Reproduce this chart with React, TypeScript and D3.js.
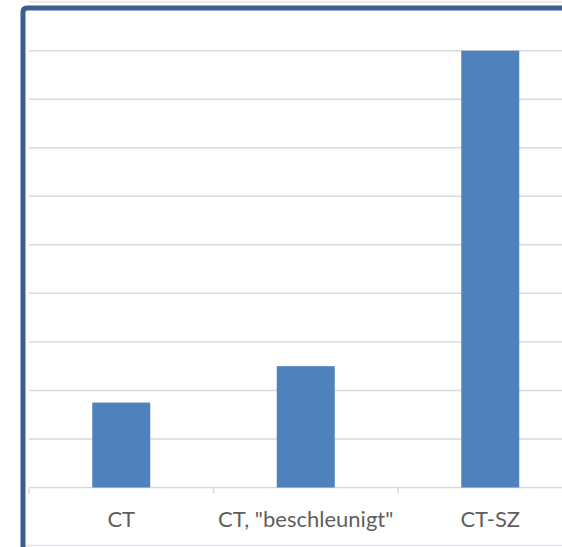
import React from "react";
import * as d3 from "d3";

const categories = ["CT", "CT, \"beschleunigt\"", "CT-SZ"];
const values = [1.75, 2.5, 9];
const gridTicks = [0, 1, 2, 3, 4, 5, 6, 7, 8, 9];

const W = 562;
const H = 547;

export default function App() {
  const left = 29;
  const bandW = 184.5;
  const x = d3
    .scaleBand<string>()
    .domain(categories)
    .range([left, left + bandW * categories.length])
    .paddingInner(0)
    .paddingOuter(0);
  const y = d3.scaleLinear().domain([0, 9]).range([487.5, 50.7]);
  const barW = 58;

  return (
    <svg
      width={W}
      height={H}
      style={{ position: "absolute", left: 0, top: 0, display: "block" }}
    >
      <rect x={0} y={0} width={W} height={H} fill="#ffffff" />
      {/* faint outer frame lines */}
      <line x1={29} x2={W} y1={2} y2={2} stroke="#e4e4e4" strokeWidth={1.5} />
      <line x1={26} x2={W} y1={545.5} y2={545.5} stroke="#e2e2ec" strokeWidth={1.5} />
      {/* gridlines */}
      {gridTicks.map((t) => (
        <line
          key={t}
          x1={left}
          x2={W}
          y1={y(t)}
          y2={y(t)}
          stroke="#d9d9d9"
          strokeWidth={1.5}
        />
      ))}
      {/* axis ticks */}
      {[0, 1, 2].map((i) => (
        <line
          key={i}
          x1={left + bandW * i}
          x2={left + bandW * i}
          y1={y(0)}
          y2={y(0) + 6}
          stroke="#d9d9d9"
          strokeWidth={1.5}
        />
      ))}
      {/* bars */}
      {categories.map((c, i) => {
        const cx = (x(c) as number) + x.bandwidth() / 2;
        return (
          <rect
            key={c}
            x={cx - barW / 2}
            y={y(values[i])}
            width={barW}
            height={y(0) - y(values[i])}
            fill="#4f81bd"
          />
        );
      })}
      {/* category labels */}
      {categories.map((c) => {
        const cx = (x(c) as number) + x.bandwidth() / 2;
        return (
          <text
            key={c}
            x={cx}
            y={527}
            textAnchor="middle"
            fontFamily="Lato, 'Open Sans', sans-serif"
            fontSize={22}
            fill="#5f5f5f"
          >
            {c}
          </text>
        );
      })}
      {/* dark blue selection border */}
      <path
        d={`M23,${H} L23,12 Q23,8 27,8 L${W},8`}
        fill="none"
        stroke="#3b5f8f"
        strokeWidth={5}
      />
    </svg>
  );
}
